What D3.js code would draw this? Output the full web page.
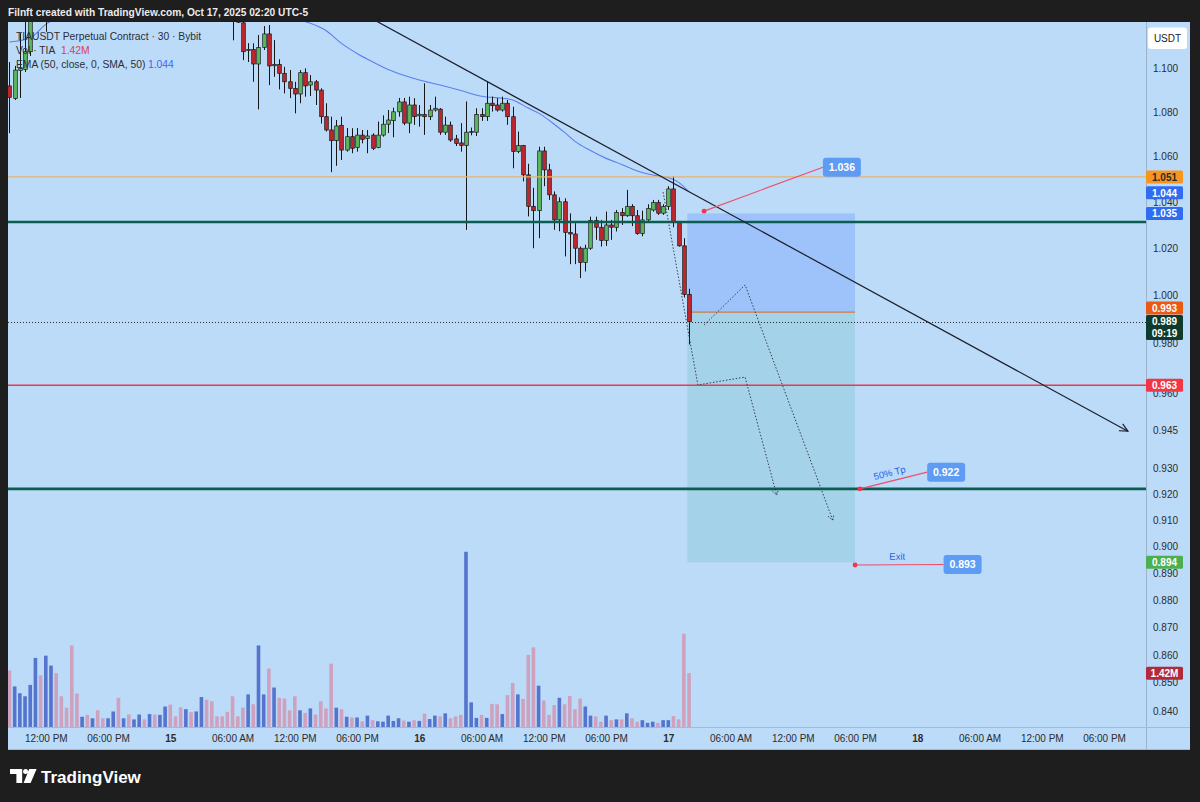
<!DOCTYPE html>
<html>
<head>
<meta charset="utf-8">
<script src="https://cdn.jsdelivr.net/npm/d3@7"></script>
<style>
  html, body { margin: 0; padding: 0; background: #1e1e1e; }
  svg { display: block; }
  text { font-family: "Liberation Sans", Arial, sans-serif; }
</style>
</head>
<body>
<svg id="chart" width="1200" height="802"></svg>
<script>
// ---------------- data: TIAUSDT perpetual, 30 minute bars ----------------
const firstBar = "2025-10-14T08:30";
const barMinutes = 30;

const opens = [
  1.0919,1.0862,1.0990,1.0995,1.1077, 1.1260,1.1360,1.1310,1.1420,1.1500,
  1.1460,1.1410,1.1380,1.1300,1.1280, 1.1310,1.1290,1.1320,1.1300,1.1280,
  1.1310,1.1340,1.1300,1.1330,1.1310, 1.1340,1.1370,1.1350,1.1380,1.1360,
  1.1390,1.1420,1.1390,1.1360,1.1340, 1.1380,1.1360,1.1400,1.1450,1.1410,
  1.1370,1.1330,1.1290,1.1260,1.1235, 1.1212,1.1082,1.1088,1.1020,1.1097,
  1.1160,1.1012,1.1018,1.0977,1.0938, 1.0908,1.0882,1.0980,1.0923,1.0938,
  1.0900,1.0779,1.0719,1.0671,1.0740, 1.0629,1.0689,1.0640,1.0696,1.0681,
  1.0696,1.0641,1.0696,1.0745,1.0761, 1.0801,1.0846,1.0750,1.0832,1.0783,
  1.0789,1.0779,1.0809,1.0813,1.0709, 1.0741,1.0679,1.0661,1.0649,1.0709,
  1.0709,1.0789,1.0779,1.0840,1.0832, 1.0809,1.0840,1.0779,1.0622,1.0649,
  1.0519,1.0381,1.0362,1.0625,1.0541, 1.0431,1.0322,1.0401,1.0268,1.0261,
  1.0200,1.0139,1.0200,1.0319,1.0290, 1.0233,1.0300,1.0290,1.0354,1.0340,
  1.0381,1.0340,1.0263,1.0322,1.0365, 1.0397,1.0351,1.0380,1.0457,1.0311,
  1.0210,1.0004
];
const highs = [
  1.1029,1.1011,1.1164,1.1240,1.1300, 1.1390,1.1380,1.1460,1.1540,1.1530,
  1.1480,1.1430,1.1400,1.1330,1.1330, 1.1320,1.1340,1.1340,1.1310,1.1320,
  1.1360,1.1360,1.1340,1.1340,1.1350, 1.1380,1.1380,1.1390,1.1390,1.1400,
  1.1440,1.1430,1.1400,1.1370,1.1390, 1.1390,1.1410,1.1470,1.1460,1.1420,
  1.1380,1.1340,1.1300,1.1280,1.1250, 1.1230,1.1117,1.1116,1.1155,1.1197,
  1.1202,1.1131,1.1042,1.1007,1.0992, 1.0938,1.0992,1.1000,1.0969,1.0946,
  1.0908,1.0840,1.0779,1.0764,1.0779, 1.0728,1.0727,1.0728,1.0719,1.0719,
  1.0704,1.0757,1.0785,1.0809,1.0820, 1.0864,1.0864,1.0870,1.0863,1.0832,
  1.0931,1.0832,1.0870,1.0818,1.0779, 1.0757,1.0697,1.0750,1.0848,1.0730,
  1.0817,1.0817,1.0938,1.0870,1.0863, 1.0870,1.0855,1.0824,1.0712,1.0652,
  1.0568,1.0462,1.0644,1.0644,1.0568, 1.0446,1.0420,1.0416,1.0350,1.0308,
  1.0207,1.0215,1.0336,1.0336,1.0322, 1.0358,1.0322,1.0365,1.0373,1.0453,
  1.0390,1.0365,1.0362,1.0390,1.0409, 1.0409,1.0390,1.0469,1.0512,1.0311,
  1.0243,1.0028
];
const lows = [
  1.0705,1.0855,1.0864,1.0983,1.1057, 1.1240,1.1280,1.1170,1.1390,1.1430,
  1.1390,1.1360,1.1270,1.1250,1.1270, 1.1270,1.1280,1.1280,1.1260,1.1270,
  1.1300,1.1280,1.1290,1.1300,1.1300, 1.1330,1.1340,1.1340,1.1350,1.1350,
  1.1380,1.1380,1.1350,1.1330,1.1330, 1.1350,1.1350,1.1390,1.1400,1.1360,
  1.1320,1.1280,1.1230,1.1130,1.1212, 1.1038,1.1029,1.0938,1.0812,1.1085,
  1.0923,1.0961,1.0903,1.0885,1.0863, 1.0794,1.0840,1.0870,1.0873,1.0832,
  1.0748,1.0712,1.0531,1.0559,1.0585, 1.0622,1.0615,1.0622,1.0659,1.0615,
  1.0629,1.0637,1.0689,1.0705,1.0686, 1.0779,1.0741,1.0705,1.0742,1.0734,
  1.0697,1.0764,1.0802,1.0697,1.0697, 1.0666,1.0647,1.0622,1.0279,1.0695,
  1.0692,1.0760,1.0760,1.0802,1.0802, 1.0802,1.0742,1.0548,1.0615,1.0490,
  1.0337,1.0200,1.0243,1.0469,1.0409, 1.0279,1.0273,1.0165,1.0132,1.0132,
  1.0073,1.0101,1.0193,1.0236,1.0207, 1.0210,1.0236,1.0272,1.0300,1.0335,
  1.0295,1.0258,1.0251,1.0315,1.0358, 1.0344,1.0344,1.0365,1.0290,1.0207,
  0.9991,0.9796
];
const closes = [
  1.0867,1.0992,1.0999,1.1077,1.1260, 1.1360,1.1310,1.1420,1.1500,1.1460,
  1.1410,1.1380,1.1300,1.1280,1.1310, 1.1290,1.1320,1.1300,1.1280,1.1310,
  1.1340,1.1300,1.1330,1.1310,1.1340, 1.1370,1.1350,1.1380,1.1360,1.1390,
  1.1420,1.1390,1.1360,1.1340,1.1380, 1.1360,1.1400,1.1450,1.1410,1.1370,
  1.1330,1.1290,1.1260,1.1235,1.1215, 1.1077,1.1088,1.1020,1.1097,1.1160,
  1.1011,1.1018,1.0977,1.0938,1.0908, 1.0882,1.0980,1.0919,1.0938,1.0900,
  1.0779,1.0719,1.0671,1.0737,1.0629, 1.0689,1.0637,1.0696,1.0677,1.0692,
  1.0637,1.0696,1.0745,1.0764,1.0801, 1.0846,1.0750,1.0832,1.0779,1.0790,
  1.0779,1.0809,1.0817,1.0709,1.0741, 1.0674,1.0659,1.0649,1.0709,1.0712,
  1.0789,1.0779,1.0840,1.0829,1.0809, 1.0840,1.0779,1.0622,1.0649,1.0519,
  1.0381,1.0362,1.0625,1.0541,1.0431, 1.0322,1.0401,1.0268,1.0261,1.0200,
  1.0139,1.0200,1.0319,1.0290,1.0233, 1.0300,1.0290,1.0354,1.0340,1.0381,
  1.0340,1.0263,1.0322,1.0372,1.0397, 1.0351,1.0380,1.0457,1.0311,1.0210,
  1.0004,0.9890
];
// volume in millions of TIA
const volumesM = [
  1.49,1.07,0.89,0.81,1.11,1.82,1.36,1.88,1.62,1.42,
  0.81,0.51,2.15,0.88,0.27,0.32,0.23,0.44,0.23,0.23,
  0.41,0.77,0.23,0.33,0.20,0.33,0.20,0.34,0.33,0.32,
  0.54,0.59,0.28,0.52,0.47,0.39,0.41,0.79,0.72,0.68,
  0.28,0.28,0.40,0.81,0.28,0.51,0.86,0.60,2.15,0.86,
  1.54,1.04,0.77,0.75,0.44,0.81,0.44,0.37,0.49,0.33,
  0.68,0.49,1.67,0.51,0.47,0.27,0.25,0.25,
  0.15,0.30,0.18,0.15,0.14,0.30,0.16,0.23,0.17,0.14,0.18,0.16,
  0.35,0.21,0.30,0.28,0.36,0.23,0.28,0.32,4.62,0.65,
  0.24,0.32,0.24,0.61,0.60,0.34,0.84,1.16,0.86,0.74,
  1.90,2.10,1.09,0.70,0.32,0.58,0.77,0.60,0.82,0.47,
  0.75,0.54,0.30,0.28,0.14,0.30,0.18,0.20,0.20,0.36,
  0.23,0.14,0.18,0.11,0.14,0.11,0.18,0.18,0.29,0.20,
  2.46,1.42
];

// moving average (50) readings at selected bars
const maBars   = [0,4,7,9,12,20,30,40,50,56,58,61,64,67,70,73,76,79,83,87,91,95,97,100,102,105,107,109,112,115,118,121,124,127,129,131];
const maValues = [1.1122,1.1141,1.1205,1.1234,1.1270,1.1300,1.1310,1.1300,1.1260,1.1225,1.1210,1.1176,1.1116,1.1069,1.1030,1.0995,1.0968,1.0946,1.0923,1.0898,1.0872,1.0863,1.0855,1.0818,1.0795,1.0745,1.0708,1.0668,1.0627,1.0592,1.0565,1.0536,1.0518,1.0507,1.0486,1.0444];

const priceTicks = [1.100,1.080,1.060,1.040,1.020,1.000,0.980,0.960,0.945,0.930,0.920,0.910,0.900,0.890,0.880,0.870,0.860,0.850,0.840];

// horizontal levels: resistance, support band, stop, half take-profit
const levelPrices = [1.051, 1.0313, 0.963, 0.922];

const lastPrice = 0.989;
const barCountdown = "09:19";
const lastVolumeText = "1.42M";
const maLast = 1.044;

// short position: entry, stop and target
const positionEntry = 0.993;
const positionStop = 1.035;
const positionTarget = 0.894;
const positionTimes = ["2025-10-17T01:50", "2025-10-17T18:00"];

// descending trend line
const trendTimes = ["2025-10-15T14:30", "2025-10-18T20:18"];
const trendPrices = [1.1364, 0.9446];

// projected swing paths (dotted)
const pathATimes  = ["2025-10-17T03:27", "2025-10-17T07:24", "2025-10-17T15:51"];
const pathAPrices = [0.9876, 1.0044, 0.9100];
const pathBTimes  = ["2025-10-16T23:30", "2025-10-17T02:51", "2025-10-17T07:24", "2025-10-17T10:27"];
const pathBPrices = [1.0443, 0.9631, 0.9663, 0.9196];

// price notes: anchor, label position, label text, caption
const noteTimes       = ["2025-10-17T03:27", "2025-10-17T18:28", "2025-10-17T18:00"];
const notePrices      = [1.036, 0.922, 0.893];
const noteLabelTimes  = ["2025-10-17T14:54", "2025-10-18T00:57", "2025-10-18T02:32"];
const noteLabelPrices = [1.0553, 0.9285, 0.8932];
const noteTexts       = ["1.036", "0.922", "0.893"];
const noteCaptions    = ["", "50% Tp", "Exit"];

// ---------------- layout ----------------
const W = 1200, H = 802;
const plot = { left: 8, right: 1146, top: 22, bottom: 727 };
const axisRight = 1190, timeAxisBottom = 750;

const parseT = d3.utcParse("%Y-%m-%dT%H:%M");
const t0 = parseT(firstBar);

const bars = opens.map((o, i) => ({
  t: d3.utcMinute.offset(t0, i * barMinutes),
  o, h: highs[i], l: lows[i], c: closes[i], v: volumesM[i]
}));

const x = d3.scaleUtc()
  .domain([new Date(Date.UTC(2025, 9, 14)), new Date(Date.UTC(2025, 9, 19))])
  .range([-78.7, 1166.3]);
const y = d3.scaleLog().domain([0.8343, 1.1216]).range([plot.bottom, plot.top]);
const vy = d3.scaleLinear().domain([0, 4.64]).range([plot.bottom, 551]);

const svg = d3.select("#chart");
const FONT = '"Liberation Sans", Arial, sans-serif';

// frame
svg.append("rect").attr("width", W).attr("height", H).attr("fill", "#1e1e1e");
svg.append("rect")
  .attr("x", plot.left).attr("y", plot.top)
  .attr("width", axisRight - plot.left).attr("height", timeAxisBottom - plot.top)
  .attr("fill", "#bcdbf9");

// header line
svg.append("text")
  .attr("x", 8).attr("y", 16)
  .attr("fill", "#ececec").attr("font-size", 10.2).attr("font-weight", "bold")
  .text("Filnft created with TradingView.com, Oct 17, 2025 02:20 UTC-5");

// clip for the pane
svg.append("defs").append("clipPath").attr("id", "pane")
  .append("rect").attr("x", plot.left).attr("y", plot.top)
  .attr("width", plot.right - plot.left).attr("height", plot.bottom - plot.top);

const pane = svg.append("g").attr("clip-path", "url(#pane)");
const bw = 3.6;

// volume
pane.append("g").selectAll("rect").data(bars).join("rect")
  .attr("x", d => x(d.t) - bw / 2)
  .attr("y", d => vy(d.v))
  .attr("width", bw)
  .attr("height", d => vy(0) - vy(d.v))
  .attr("fill", d => d.c >= d.o ? "#5474cd" : "#cea2be");

// position zones
const px0 = x(parseT(positionTimes[0])), px1 = x(parseT(positionTimes[1]));
pane.append("rect")
  .attr("x", px0).attr("width", px1 - px0)
  .attr("y", y(positionStop)).attr("height", y(positionEntry) - y(positionStop))
  .attr("fill", "rgba(41,98,255,0.2)");
pane.append("rect")
  .attr("x", px0).attr("width", px1 - px0)
  .attr("y", y(positionEntry)).attr("height", y(positionTarget) - y(positionEntry))
  .attr("fill", "rgba(8,153,129,0.13)");
pane.append("line")
  .attr("x1", px0).attr("x2", px1)
  .attr("y1", y(positionEntry)).attr("y2", y(positionEntry))
  .attr("stroke", "#d27d3c").attr("stroke-width", 1.2);

// moving average
const maLine = d3.line().x(d => d[0]).y(d => d[1]).curve(d3.curveMonotoneX);
pane.append("path")
  .attr("d", maLine(maBars.map((b, k) => [x(bars[b].t), y(maValues[k])])))
  .attr("fill", "none").attr("stroke", "#5a7ff0").attr("stroke-width", 1.1);

// candles
const cg = pane.append("g");
cg.selectAll("line").data(bars).join("line")
  .attr("x1", d => Math.round(x(d.t)) + 0.5).attr("x2", d => Math.round(x(d.t)) + 0.5)
  .attr("y1", d => y(d.h)).attr("y2", d => y(d.l))
  .attr("stroke", "#161616").attr("stroke-width", 1);
cg.selectAll("rect").data(bars).join("rect")
  .attr("x", d => Math.round(x(d.t)) + 0.5 - bw / 2)
  .attr("y", d => y(Math.max(d.o, d.c)))
  .attr("width", bw)
  .attr("height", d => Math.max(1, Math.abs(y(d.o) - y(d.c))))
  .attr("fill", d => d.c >= d.o ? "#5cb85c" : "#c0262d")
  .attr("stroke", "#161616").attr("stroke-width", 0.7);

// horizontal levels
const levelStyles = [
  { color: "#e4b56c", width: 1.2 },
  { color: "#0b5d52", width: 2.6 },
  { color: "#f23645", width: 1.6 },
  { color: "#0b5d52", width: 2.6 }
];
levelPrices.forEach((p, k) => {
  pane.append("line")
    .attr("x1", plot.left).attr("x2", plot.right)
    .attr("y1", y(p)).attr("y2", y(p))
    .attr("stroke", levelStyles[k].color).attr("stroke-width", levelStyles[k].width);
});

// last price dotted line
pane.append("line")
  .attr("x1", plot.left).attr("x2", plot.right)
  .attr("y1", Math.round(y(lastPrice)) + 0.5).attr("y2", Math.round(y(lastPrice)) + 0.5)
  .attr("stroke", "#2a2a2a").attr("stroke-width", 1).attr("stroke-dasharray", "1,2");

function arrowHead(g, p1, p2, len, spread) {
  const a = Math.atan2(p2[1] - p1[1], p2[0] - p1[0]);
  const pts = [a + Math.PI - spread, a + Math.PI + spread]
    .map(b => [p2[0] + len * Math.cos(b), p2[1] + len * Math.sin(b)]);
  return g.append("path").attr("d", `M${pts[0]}L${p2}L${pts[1]}`).attr("fill", "none");
}

// trend line with arrow
const tl = trendTimes.map((t, k) => [x(parseT(t)), y(trendPrices[k])]);
pane.append("line")
  .attr("x1", tl[0][0]).attr("y1", tl[0][1]).attr("x2", tl[1][0]).attr("y2", tl[1][1])
  .attr("stroke", "#1b1d2a").attr("stroke-width", 1.2);
arrowHead(pane, tl[0], tl[1], 9, 0.45).attr("stroke", "#1b1d2a").attr("stroke-width", 1.2);

// projected paths
[[pathATimes, pathAPrices], [pathBTimes, pathBPrices]].forEach(([ts, ps]) => {
  const pts = ts.map((t, k) => [x(parseT(t)), y(ps[k])]);
  pane.append("path")
    .attr("d", d3.line()(pts))
    .attr("fill", "none").attr("stroke", "#3a3f4a").attr("stroke-width", 1)
    .attr("stroke-dasharray", "1.5,1.8");
  arrowHead(pane, pts[pts.length - 2], pts[pts.length - 1], 6, 0.55)
    .attr("stroke", "#3a3f4a").attr("stroke-width", 1).attr("stroke-dasharray", "1.5,1.5");
});

// price notes
const notes = svg.append("g");
noteTimes.forEach((t, k) => {
  const a = [x(parseT(t)), y(notePrices[k])];
  const b = [x(parseT(noteLabelTimes[k])), y(noteLabelPrices[k])];
  notes.append("line")
    .attr("x1", a[0]).attr("y1", a[1]).attr("x2", b[0]).attr("y2", b[1])
    .attr("stroke", "#ee4d69").attr("stroke-width", 1.1);
  notes.append("circle").attr("cx", a[0]).attr("cy", a[1]).attr("r", 2.4).attr("fill", "#f23645");
  const bwid = 38, bh = 19;
  notes.append("rect")
    .attr("x", b[0]).attr("y", b[1] - bh / 2).attr("width", bwid).attr("height", bh)
    .attr("rx", 3).attr("fill", "#5e9cf4");
  notes.append("text")
    .attr("x", b[0] + bwid / 2).attr("y", b[1] + 3.8)
    .attr("text-anchor", "middle").attr("fill", "#ffffff")
    .attr("font-size", 10.5).attr("font-weight", "bold")
    .text(noteTexts[k]);
  if (noteCaptions[k]) {
    const ang = Math.atan2(b[1] - a[1], b[0] - a[0]) * 180 / Math.PI;
    const mx = (a[0] + b[0]) / 2, my = (a[1] + b[1]) / 2;
    notes.append("text")
      .attr("transform", `translate(${mx},${my}) rotate(${ang}) translate(-2,-5)`)
      .attr("text-anchor", "middle").attr("fill", "#2d5fe3")
      .attr("font-size", 9.5)
      .text(noteCaptions[k]);
  }
});

// legend
const legend = svg.append("g").attr("font-size", 10.3).attr("fill", "#2a2e39");
legend.append("text").attr("x", 16).attr("y", 39.5)
  .text("TIAUSDT Perpetual Contract \u00b7 30 \u00b7 Bybit");
const l2 = legend.append("text").attr("x", 16).attr("y", 53.8);
l2.append("tspan").text("Vol \u00b7 TIA");
l2.append("tspan").attr("x", 61).attr("fill", "#d2434f").text(lastVolumeText);
const l3 = legend.append("text").attr("x", 16).attr("y", 68);
l3.append("tspan").text("EMA (50, close, 0, SMA, 50)");
l3.append("tspan").attr("x", 148).attr("fill", "#3f66ea").text(maLast.toFixed(3));

// separators
svg.append("line").attr("x1", plot.right + 0.5).attr("x2", plot.right + 0.5)
  .attr("y1", plot.top).attr("y2", timeAxisBottom).attr("stroke", "#9bb3cc");
svg.append("line").attr("x1", plot.left).attr("x2", axisRight)
  .attr("y1", plot.bottom + 0.5).attr("y2", plot.bottom + 0.5).attr("stroke", "#a3bad3");
svg.append("line").attr("x1", plot.left).attr("x2", axisRight)
  .attr("y1", timeAxisBottom - 0.5).attr("y2", timeAxisBottom - 0.5).attr("stroke", "#a3bad3");

// price axis
const yAxis = d3.axisRight(y).tickValues(priceTicks).tickFormat(d3.format(".3f")).tickSize(0).tickPadding(0);
const ya = svg.append("g").attr("transform", `translate(${1153},0)`).call(yAxis);
ya.select(".domain").remove();
ya.selectAll("text").attr("font-family", FONT).attr("font-size", 10).attr("fill", "#2c2c2c")
  .attr("x", 0).attr("dy", "0.34em");

// time axis
const timeTicks = d3.utcHour.every(6).range(new Date(Date.UTC(2025, 9, 14, 12)), new Date(Date.UTC(2025, 9, 19)));
const fmtHour = d3.utcFormat("%I:%M %p");
const xAxis = d3.axisBottom(x).tickValues(timeTicks)
  .tickFormat(d => d.getUTCHours() === 0 ? String(d.getUTCDate()) : fmtHour(d))
  .tickSize(0).tickPadding(0);
const xa = svg.append("g").attr("transform", `translate(0,${plot.bottom})`).call(xAxis);
xa.select(".domain").remove();
xa.selectAll("text").attr("font-family", FONT).attr("font-size", 10).attr("fill", "#2c2c2c")
  .attr("y", 15).attr("dy", 0)
  .attr("font-weight", d => d.getUTCHours() === 0 ? "bold" : "normal");

// "USDT" currency box
svg.append("rect").attr("x", 1148).attr("y", 27.5).attr("width", 39).attr("height", 21.5)
  .attr("rx", 3).attr("fill", "#ffffff");
svg.append("text").attr("x", 1167.5).attr("y", 41.8).attr("text-anchor", "middle")
  .attr("font-size", 10).attr("fill", "#222").text("USDT");

// axis labels
function axisLabel(cy, lines, fill, color) {
  const h = lines.length === 1 ? 13 : 25;
  const top = lines.length === 1 ? cy - h / 2 : cy - 6.8;
  svg.append("rect").attr("x", plot.right).attr("y", top).attr("width", 37).attr("height", h)
    .attr("rx", 1.5).attr("fill", fill);
  lines.forEach((s, k) => {
    svg.append("text").attr("x", plot.right + 18.5).attr("y", top + 10.2 + k * 12)
      .attr("text-anchor", "middle").attr("font-size", 10).attr("font-weight", "bold")
      .attr("fill", color).text(s);
  });
}
const curY = y(lastPrice);
axisLabel(y(levelPrices[0]), [levelPrices[0].toFixed(3)], "#f7961f", "#2a2a2a");
axisLabel(y(maLast), [maLast.toFixed(3)], "#2f6cf2", "#ffffff");
axisLabel(y(positionStop), [positionStop.toFixed(3)], "#2f6cf2", "#ffffff");
axisLabel(Math.min(y(positionEntry), curY - 6.8 - 7), [positionEntry.toFixed(3)], "#ea5a12", "#ffffff");
axisLabel(curY, [lastPrice.toFixed(3), barCountdown], "#0f3b2d", "#ffffff");
axisLabel(y(levelPrices[2]), [levelPrices[2].toFixed(3)], "#f23645", "#ffffff");
axisLabel(y(positionTarget), [positionTarget.toFixed(3)], "#4caf50", "#ffffff");
axisLabel(vy(volumesM[volumesM.length - 1]), [lastVolumeText], "#b22a3a", "#ffffff");

// footer logo
const logo = svg.append("g").attr("fill", "#ffffff");
logo.append("path").attr("d", "M10,769 H22.2 V783 H16.4 V774 H10 Z");
logo.append("circle").attr("cx", 25.6).attr("cy", 771.6).attr("r", 2.5);
logo.append("path").attr("d", "M29.2,769 H36.6 L30.6,783 H23.6 Z");
logo.append("text").attr("x", 41).attr("y", 782.5).attr("font-size", 17).attr("font-weight", "bold")
  .text("TradingView");
</script>
</body>
</html>
